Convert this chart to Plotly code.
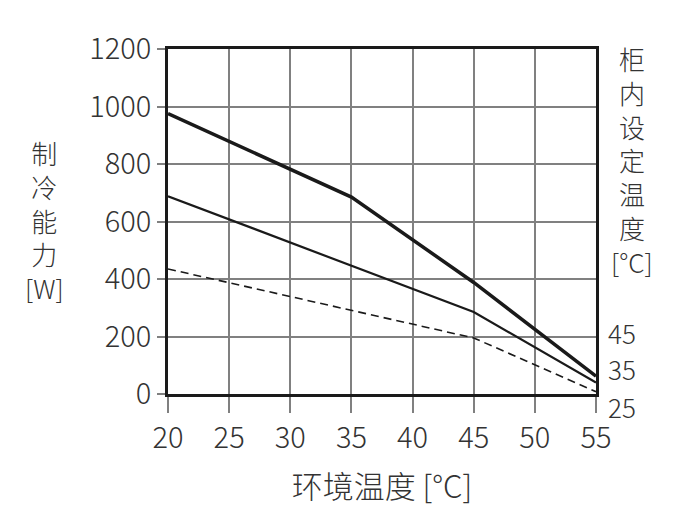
import plotly.graph_objects as go

# ambient temperature [°C] on x, cooling capacity [W] on y
ambient = [20, 35, 45, 55]
cap_45 = [975, 685, 388, 62]
cap_35 = [688, None, 285, 40]
cap_25 = [435, None, 195, 8]
set_labels = ["45", "35", "25"]
label_y = [214, 90, -44]

x_ticks = [20, 25, 30, 35, 40, 45, 50, 55]
y_ticks = [0, 200, 400, 600, 800, 1000, 1200]

FONT = "Noto Sans CJK SC"
INK = "#333333"
WT = 300

# page offset from the browser's default body margin
OFF = 8
L, R, T, B = 168 - OFF, 104 + OFF, 49 - OFF, 138 + OFF
W, H = 700, 532
pw, ph = W - L - R, H - T - B


def px_x(x):
    return (x - OFF - L) / pw


def px_y(y):
    return 1 - (y - OFF - T) / ph


fig = go.Figure()

series = [
    (cap_45, dict(color="#1a1a1a", width=3.5)),
    (cap_35, dict(color="#1a1a1a", width=2.2)),
    (cap_25, dict(color="#1a1a1a", width=1.6, dash="8px,5px")),
]
for vals, ln in series:
    xs = [x for x, v in zip(ambient, vals) if v is not None]
    ys = [v for v in vals if v is not None]
    fig.add_trace(go.Scatter(x=xs, y=ys, mode="lines", line=ln,
                             showlegend=False, hoverinfo="skip"))

for txt, yy in zip(set_labels, label_y):
    fig.add_annotation(x=1.0, xref="paper", xanchor="left", xshift=10,
                       y=yy / 1200, yref="paper", yanchor="middle", text=txt,
                       showarrow=False,
                       font=dict(family=FONT, size=26, color=INK, weight=WT))

# stacked vertical titles
fig.add_annotation(x=px_x(44), xref="paper", xanchor="center",
                   y=px_y(132), yref="paper", yanchor="top",
                   text="制<br>冷<br>能<br>力<br>[W]", showarrow=False,
                   font=dict(family=FONT, size=26, color=INK, weight=WT))
fig.add_annotation(x=px_x(632), xref="paper", xanchor="center",
                   y=px_y(38), yref="paper", yanchor="top",
                   text="柜<br>内<br>设<br>定<br>温<br>度<br>[°C]", showarrow=False,
                   font=dict(family=FONT, size=26, color=INK, weight=WT))

fig.update_xaxes(
    range=[20, 55], tickvals=x_ticks, ticks="outside", ticklen=16,
    tickwidth=2, tickcolor="#808080",
    showgrid=True, gridcolor="#808080", gridwidth=2,
    showline=True, linecolor="#1a1a1a", linewidth=3, mirror=True,
    tickfont=dict(family=FONT, size=29, color=INK, weight=WT),
    title=dict(text="环境温度 [°C]", standoff=22,
               font=dict(family=FONT, size=31, color=INK, weight=WT)),
    zeroline=False,
)
fig.update_yaxes(
    range=[0, 1200], tickvals=y_ticks, ticks="outside", ticklen=8,
    tickwidth=2, tickcolor="#808080",
    showgrid=True, gridcolor="#808080", gridwidth=2,
    showline=True, linecolor="#1a1a1a", linewidth=3, mirror=True,
    tickfont=dict(family=FONT, size=29, color=INK, weight=WT),
    zeroline=False,
)

fig.update_layout(
    width=W, height=H,
    margin=dict(l=L, r=R, t=T, b=B, pad=0),
    paper_bgcolor="white", plot_bgcolor="white",
    font=dict(family=FONT, color=INK),
)

fig.write_html("out.html")
